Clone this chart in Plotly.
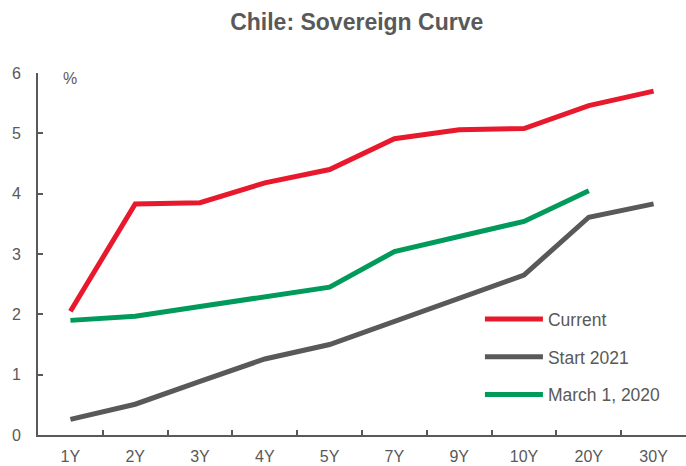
import plotly.graph_objects as go

tenors = ["1Y", "2Y", "3Y", "4Y", "5Y", "7Y", "9Y", "10Y", "20Y", "30Y"]
current = [2.05, 3.83, 3.85, 4.18, 4.40, 4.91, 5.06, 5.08, 5.46, 5.70]
start_2021 = [0.26, 0.51, 0.89, 1.26, 1.50, 1.89, 2.27, 2.65, 3.61, 3.83]
march_2020 = [1.90, 1.97, 2.13, 2.29, 2.45, 3.04, 3.29, 3.54, 4.05]

series = [
    ("Current", current, "#E8192C"),
    ("Start 2021", start_2021, "#595959"),
    ("March 1, 2020", march_2020, "#009A5A"),
]

font = "Liberation Sans, Arial, sans-serif"
grey = "#595959"

fig = go.Figure()
for name, vals, color in series:
    fig.add_trace(go.Scatter(
        x=tenors[:len(vals)], y=vals, name=name, mode="lines",
        legendgroup=name, line=dict(color=color, width=5),
    ))

fig.update_layout(
    width=686, height=466,
    margin=dict(l=38, r=0, t=73, b=31),
    paper_bgcolor="white", plot_bgcolor="white",
    title=dict(text="<b>Chile: Sovereign Curve</b>", x=0.52, xanchor="center",
               y=0.953, yanchor="middle",
               font=dict(family=font, size=23, color=grey)),
    font=dict(family=font, size=16, color=grey),
    showlegend=True,
    legend=dict(x=0.682, y=0.37, xanchor="left", yanchor="top",
                font=dict(size=17.5, color=grey), traceorder="grouped",
                itemwidth=58, tracegroupgap=12, bgcolor="rgba(0,0,0,0)"),
    xaxis=dict(type="category", categoryorder="array", categoryarray=tenors,
               range=[-0.5, 9.5], showgrid=False, showline=True,
               linecolor=grey, linewidth=2, ticks="inside", tickson="boundaries",
               ticklen=5, tickwidth=1.5, tickcolor=grey, zeroline=False,
               ticklabelstandoff=6,
               tickfont=dict(size=16, color=grey)),
    yaxis=dict(range=[0, 6], dtick=1, showgrid=False, showline=True,
               linecolor=grey, linewidth=2, ticks="inside", ticklen=5,
               tickwidth=1.5, tickcolor=grey, zeroline=False,
               ticklabelstandoff=12,
               tickfont=dict(size=16, color=grey)),
    annotations=[dict(text="%", xref="paper", yref="paper", x=0.05, y=1.015,
                      xanchor="center", yanchor="top", showarrow=False,
                      font=dict(size=16, color=grey))],
)

fig.write_html("out.html")
